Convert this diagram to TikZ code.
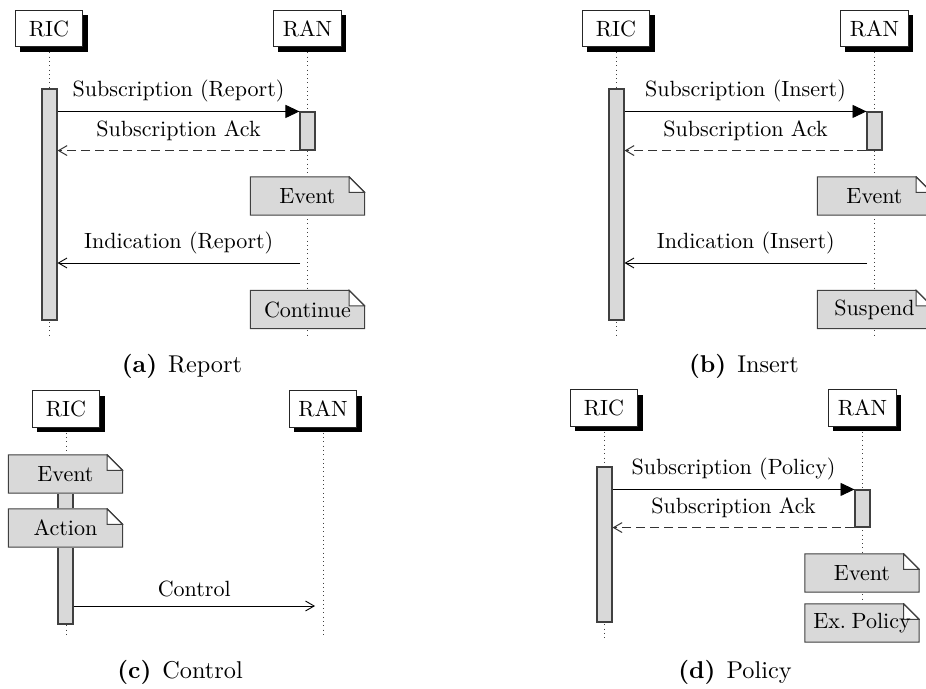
\documentclass[tikz,border=0pt]{standalone}
\usetikzlibrary{arrows.meta,shadows,fit}
% size of the folded corner of a note
\newcommand\notefold{6.9pt}
\begin{document}
\begin{tikzpicture}[x=0.4444pt,y=-0.4444pt,
  font=\fontsize{9.8}{12}\selectfont,
  inst/.style={draw=black!85, line width=0.45pt, fill=white,
    minimum width=30.2pt, minimum height=16.4pt, inner sep=0pt,
    drop shadow={shadow xshift=2.2pt, shadow yshift=-2.2pt, opacity=1, fill=black}},
  lifeline/.style={draw=black!75, line width=0.4pt, dash pattern=on 0.4pt off 1.5pt},
  actbar/.style={draw=black!75, line width=0.5pt, fill=gray!30,
    inner xsep=3.33pt, inner ysep=0pt},
  call/.style={draw=black, line width=0.4pt, -{Triangle[length=6.2pt,width=5.8pt]}},
  reply/.style={draw=black!80, line width=0.45pt, dash pattern=on 4pt off 2.2pt,
    -{Straight Barb[length=3.8pt,width=4.4pt]}},
  signal/.style={draw=black, line width=0.4pt, -{Straight Barb[length=3.8pt,width=4.4pt]}},
  msglabel/.style={above, inner sep=4pt},
  notebox/.style={minimum width=51.4pt, minimum height=17.6pt, inner sep=0pt,
    outer sep=0pt, fill=white,
    path picture={
      \path (path picture bounding box.south west) ++(0.3pt,0.3pt) coordinate (nsw)
            (path picture bounding box.north east) ++(-0.3pt,-0.3pt) coordinate (nne);
      \filldraw[fill=gray!30, draw=black!75, line width=0.5pt]
        (nsw) -- (nsw |- nne) -- ([xshift=-\notefold]nne) -- ([yshift=-\notefold]nne)
        -- (nne |- nsw) -- cycle;
      \filldraw[fill=white, draw=black!75, line width=0.5pt]
        ([xshift=-\notefold]nne) |- ([yshift=-\notefold]nne) -- cycle;
    }},
  subcap/.style={anchor=base, font=\fontsize{10.8}{13}\selectfont},
]
\useasboundingbox (0,0) rectangle (926,688);
\clip (0,0) rectangle (926,688);

% ---------------- (a) Report ----------------
\node[inst] (ricA) at (49,28.5) {RIC};
\node[inst] (ranA) at (307.5,28.5) {RAN};
\coordinate (endA) at (0,337);
\draw[lifeline] ([yshift=-2.2pt]ricA.south) -- (ricA.south |- endA);
\draw[lifeline] ([yshift=-2.2pt]ranA.south) -- (ranA.south |- endA);
\node[actbar, fit={(49.5,89) (49.5,320)}] (ricAbar) {};
\node[actbar, fit={(307.5,112) (307.5,150)}] (ranAbar) {};
\draw[call] (ricAbar.east |- ranAbar.north) -- node[msglabel] {Subscription (Report)} (ranAbar.north west);
\draw[reply] (ranAbar.south west) -- node[msglabel] {Subscription Ack} (ricAbar.east |- ranAbar.south west);
\node[notebox] (evA) at (307.5,196) {Event};
\coordinate (indA) at (300,263);
\draw[signal] (indA) -- node[msglabel] {Indication (Report)} (ricAbar.east |- indA);
\node[notebox] (contA) at (307.5,309.5) {Continue};
\node[subcap] (capA) at (182,372) {\textbf{(a)}\hspace{0.45em}Report};

% ---------------- (b) Insert ----------------
\node[inst] (ricB) at (616,28.5) {RIC};
\node[inst] (ranB) at (874.5,28.5) {RAN};
\draw[lifeline] ([yshift=-2.2pt]ricB.south) -- (ricB.south |- endA);
\draw[lifeline] ([yshift=-2.2pt]ranB.south) -- (ranB.south |- endA);
\node[actbar, fit={(616.5,89) (616.5,320)}] (ricBbar) {};
\node[actbar, fit={(874.5,112) (874.5,150)}] (ranBbar) {};
\draw[call] (ricBbar.east |- ranBbar.north) -- node[msglabel] {Subscription (Insert)} (ranBbar.north west);
\draw[reply] (ranBbar.south west) -- node[msglabel] {Subscription Ack} (ricBbar.east |- ranBbar.south west);
\node[notebox] (evB) at (874.5,196) {Event};
\coordinate (indB) at (867,263);
\draw[signal] (indB) -- node[msglabel] {Indication (Insert)} (ricBbar.east |- indB);
\node[notebox] (suspB) at (874.5,309.5) {Suspend};
\node[subcap] (capB) at (744,372) {\textbf{(b)}\hspace{0.45em}Insert};

% ---------------- (c) Control ----------------
\node[inst] (ricC) at (66,409) {RIC};
\node[inst] (ranC) at (323,409) {RAN};
\coordinate (endC) at (0,638);
\draw[lifeline] ([yshift=-2.2pt]ricC.south) -- (ricC.south |- endC);
\draw[lifeline] ([yshift=-2.2pt]ranC.south) -- (ranC.south |- endC);
\node[actbar, fit={(65.5,474) (65.5,624)}] (ricCbar) {};
\node[notebox] (evC) at (65.5,474) {Event};
\node[notebox] (actC) at (65.5,528) {Action};
\coordinate (ctlC) at (315,606);
\draw[signal] (ricCbar.east |- ctlC) -- node[msglabel] {Control} (ctlC);
\node[subcap] (capC) at (180,678) {\textbf{(c)}\hspace{0.45em}Control};

% ---------------- (d) Policy ----------------
\node[inst] (ricD) at (604,408) {RIC};
\node[inst] (ranD) at (862.5,408) {RAN};
\draw[lifeline] ([yshift=-2.2pt]ricD.south) -- (ricD.south |- endC);
\draw[lifeline] ([yshift=-2.2pt]ranD.south) -- (ranD.south |- endC);
\node[actbar, fit={(604.5,467) (604.5,622)}] (ricDbar) {};
\node[actbar, fit={(862.5,490) (862.5,527)}] (ranDbar) {};
\draw[call] (ricDbar.east |- ranDbar.north) -- node[msglabel] {Subscription (Policy)} (ranDbar.north west);
\draw[reply] (ranDbar.south west) -- node[msglabel] {Subscription Ack} (ricDbar.east |- ranDbar.south west);
\node[notebox] (evD) at (862,573) {Event};
\node[notebox] (polD) at (862,623) {Ex.\hspace{0.25em}Policy};
\node[subcap] (capD) at (735,678) {\textbf{(d)}\hspace{0.45em}Policy};
\end{tikzpicture}
\end{document}
